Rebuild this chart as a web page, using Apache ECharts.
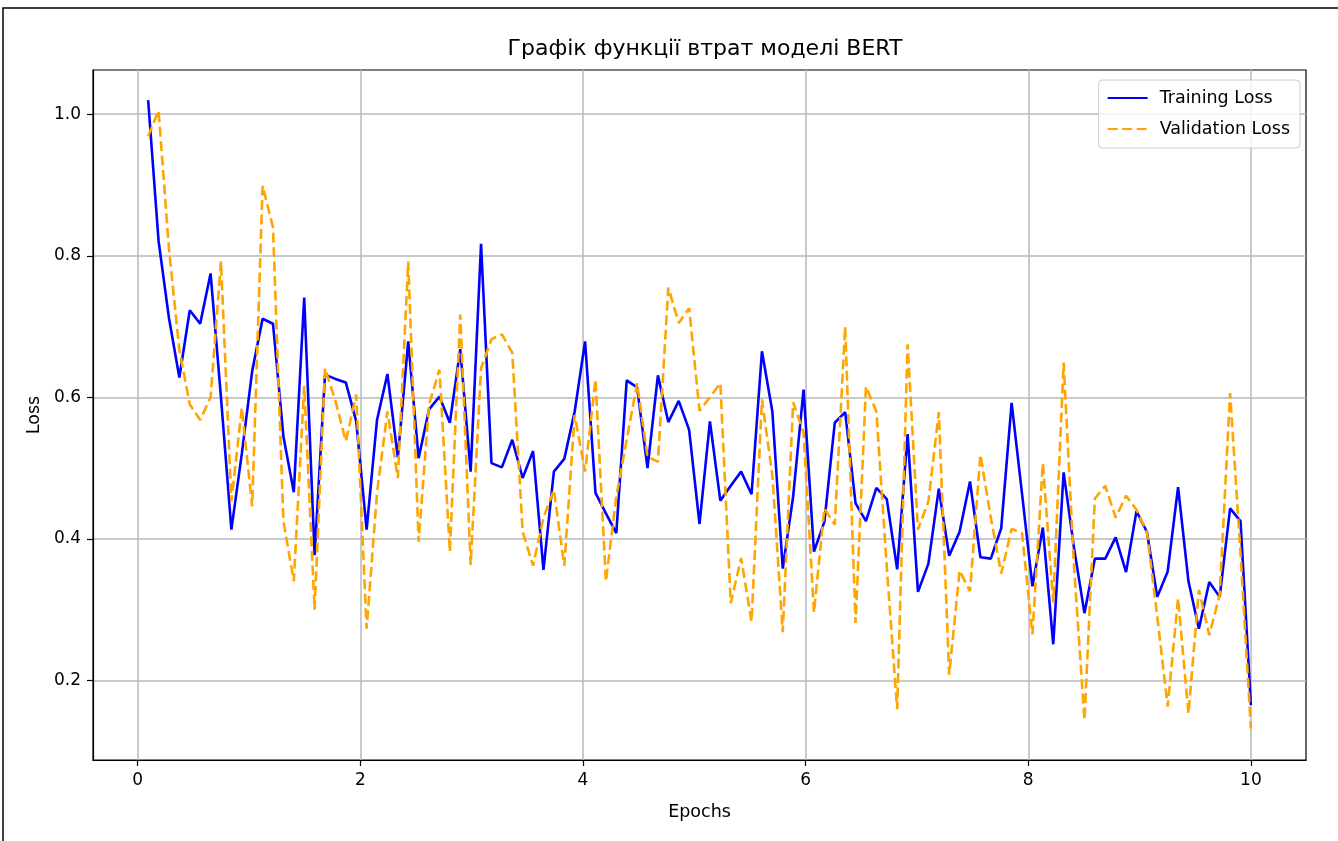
<!DOCTYPE html>
<html lang="uk">
<head>
<meta charset="UTF-8">
<title>Графік функції втрат моделі BERT</title>
<script src="https://cdn.jsdelivr.net/npm/echarts@6/dist/echarts.min.js"></script>
<style>
    html, body { margin: 0; padding: 0; background: #fff; }
    #main { width: 1338px; height: 841px; }
</style>
</head>
<body>
<div id="main"></div>
<script>
// loss per logging step (107 steps over 10 epochs)
const trainLoss = [
    1.02, 0.821, 0.712, 0.628, 0.723, 0.704, 0.775, 0.60, 0.413, 0.52,
    0.637, 0.711, 0.704, 0.545, 0.466, 0.741, 0.377, 0.632, 0.626, 0.621,
    0.566, 0.413, 0.568, 0.633, 0.515, 0.679, 0.514, 0.583, 0.601, 0.564,
    0.668, 0.495, 0.817, 0.507, 0.501, 0.540, 0.486, 0.524, 0.356, 0.495,
    0.513, 0.58, 0.679, 0.465, 0.436, 0.408, 0.624, 0.614, 0.500, 0.631,
    0.565, 0.595, 0.554, 0.421, 0.566, 0.454, 0.475, 0.495, 0.463, 0.665,
    0.580, 0.358, 0.46, 0.611, 0.382, 0.424, 0.564, 0.579, 0.450, 0.425,
    0.472, 0.456, 0.357, 0.548, 0.325, 0.365, 0.471, 0.376, 0.410, 0.481,
    0.374, 0.372, 0.415, 0.592, 0.464, 0.333, 0.416, 0.251, 0.494, 0.387,
    0.295, 0.372, 0.372, 0.402, 0.353, 0.439, 0.410, 0.318, 0.354, 0.473,
    0.340, 0.273, 0.339, 0.318, 0.443, 0.425, 0.165
];
const valLoss = [
    0.969, 1.005, 0.81, 0.667, 0.59, 0.568, 0.60, 0.792, 0.453, 0.585,
    0.446, 0.899, 0.840, 0.425, 0.340, 0.616, 0.300, 0.641, 0.595, 0.538,
    0.604, 0.273, 0.465, 0.58, 0.486, 0.792, 0.396, 0.59, 0.639, 0.382,
    0.717, 0.363, 0.641, 0.682, 0.689, 0.663, 0.410, 0.362, 0.43, 0.469,
    0.362, 0.575, 0.495, 0.625, 0.34, 0.46, 0.54, 0.62, 0.516, 0.509,
    0.755, 0.705, 0.726, 0.581, 0.60, 0.620, 0.309, 0.373, 0.283, 0.597,
    0.49, 0.268, 0.593, 0.55, 0.296, 0.443, 0.420, 0.700, 0.281, 0.615,
    0.580, 0.36, 0.159, 0.675, 0.413, 0.453, 0.579, 0.208, 0.355, 0.326,
    0.519, 0.43, 0.351, 0.414, 0.408, 0.265, 0.507, 0.31, 0.649, 0.36,
    0.144, 0.457, 0.475, 0.430, 0.461, 0.441, 0.410, 0.29, 0.163, 0.316,
    0.153, 0.328, 0.264, 0.321, 0.606, 0.38, 0.132
];
const xTicks = [0, 2, 4, 6, 8, 10];
const yTicks = [0.2, 0.4, 0.6, 0.8, 1.0];

const totalEpochs = 10;
const steps = trainLoss.length;
const epochs = trainLoss.map((_, i) => (i + 1) * totalEpochs / steps);

const font = 'DejaVu Sans';
const chart = echarts.init(document.getElementById('main'));

chart.setOption({
    backgroundColor: '#fff',
    animation: false,
    title: {
        text: 'Графік функції втрат моделі BERT',
        left: 700,
        textAlign: 'center',
        top: 33,
        textStyle: { fontFamily: font, fontSize: 22, fontWeight: 'normal', color: '#000' }
    },
    legend: {
        orient: 'vertical',
        right: 38,
        top: 80,
        padding: [9, 10, 10, 8],
        itemGap: 13,
        itemWidth: 40,
        itemHeight: 14,
        itemStyle: { opacity: 0 },
        backgroundColor: 'rgba(255,255,255,0.8)',
        borderColor: '#cccccc',
        borderWidth: 1,
        borderRadius: 4,
        textStyle: { fontFamily: font, fontSize: 17.5, color: '#000', padding: [0, 0, 0, 7] },
        data: ['Training Loss', 'Validation Loss']
    },
    grid: {
        left: 93, right: 32, top: 70, bottom: 81,
        show: true, borderColor: '#000', borderWidth: 1.2,
        outerBoundsMode: 'none'
    },
    xAxis: {
        type: 'value',
        min: -0.402,
        max: 10.495,
        name: 'Epochs',
        nameLocation: 'middle',
        nameGap: 43,
        nameTextStyle: { fontFamily: font, fontSize: 17.5, color: '#000' },
        axisLine: { show: true, onZero: false, lineStyle: { color: '#000', width: 1.2 } },
        axisTick: { show: true, customValues: xTicks, length: 6, lineStyle: { color: '#000', width: 1.2 } },
        axisLabel: { customValues: xTicks, margin: 12, fontFamily: font, fontSize: 17, color: '#000' },
        splitLine: { show: true, customValues: xTicks, lineStyle: { color: '#b8b8b8', width: 1.5 } }
    },
    yAxis: {
        type: 'value',
        min: 0.0875,
        max: 1.0625,
        name: 'Loss',
        nameLocation: 'middle',
        nameGap: 48,
        nameTextStyle: { fontFamily: font, fontSize: 17.5, color: '#000' },
        axisLine: { show: true, onZero: false, lineStyle: { color: '#000', width: 1.2 } },
        axisTick: { show: true, customValues: yTicks, length: 6, lineStyle: { color: '#000', width: 1.2 } },
        axisLabel: {
            customValues: yTicks, margin: 12, fontFamily: font, fontSize: 17, color: '#000',
            formatter: v => v.toFixed(1)
        },
        splitLine: { show: true, customValues: yTicks, lineStyle: { color: '#b8b8b8', width: 1.5 } }
    },
    graphic: [{
        type: 'polyline',
        silent: true,
        shape: { points: [[3, 841], [3, 8], [1338, 8]] },
        style: { stroke: '#000', lineWidth: 1.5, fill: null }
    }],
    series: [
        {
            name: 'Training Loss',
            type: 'line',
            symbol: 'none',
            data: epochs.map((e, i) => [e, trainLoss[i]]),
            lineStyle: { color: '#0000ff', width: 2.6 },
            itemStyle: { color: '#0000ff' }
        },
        {
            name: 'Validation Loss',
            type: 'line',
            symbol: 'none',
            data: epochs.map((e, i) => [e, valLoss[i]]),
            lineStyle: { color: '#ffa500', width: 2.6, type: [10, 4.5] },
            itemStyle: { color: '#ffa500' }
        }
    ]
});
</script>
</body>
</html>
